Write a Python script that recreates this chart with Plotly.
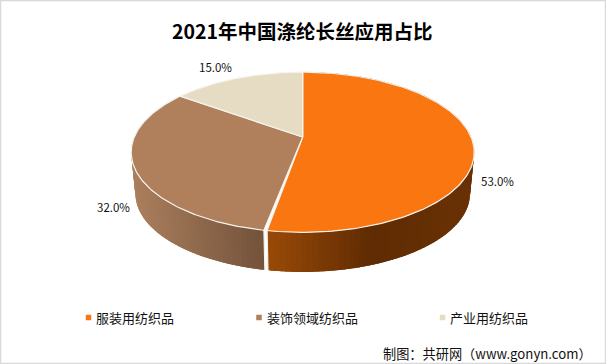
import math
import numpy as np
import plotly.graph_objects as go

# ---- data ----
title_text = "2021年中国涤纶长丝应用占比"
source_text = "制图：共研网（www.gonyn.com）"
categories = ["服装用纺织品", "装饰领域纺织品", "产业用纺织品"]
values = [53.0, 32.0, 15.0]

# ---- style ----
W, H = 606, 364
top_colors = ["#FA7610", "#B07F5B", "#E6DCC3"]
wall_stops = [
    [(266, (156, 76, 8)), (375, (96, 44, 3)), (474, (106, 50, 6))],
    [(135, (170, 126, 93)), (263, (114, 82, 58))],
    [(0, (230, 220, 195)), (606, (230, 220, 195))],
]
FONT = "Noto Sans CJK SC"
APEX = (302.7, 137.0)
SX, SY, K = 168.4, 77.2, 0.19
DEPTH, BOTTOM_SCALE = 42.0, 0.975
trim = [(0.0, 0.9), (0.0, 0.0), (0.0, 0.0)]  # degrees cut from each slice's ends
label_offsets = [(24, 37), (-21, 39), (-22, -11)]
legend_x = [88.5, 259, 442.5]
legend_gap = 5.5
LEGEND_Y = 317.5


def project(deg, bottom=False):
    """Perspective view of a point on the pie's rim; deg runs clockwise from 12 o'clock."""
    a = np.radians(deg)
    X, Y = np.sin(a), np.cos(a)
    d = 1 + K * Y
    x, y = SX * X / d, -SY * Y / d
    if bottom:
        return APEX[0] + BOTTOM_SCALE * x, APEX[1] + DEPTH + BOTTOM_SCALE * y
    return APEX[0] + x, APEX[1] + y


def wall_color(stops, x):
    xs = [s[0] for s in stops]
    rgb = [int(np.interp(x, xs, [s[1][i] for s in stops])) for i in range(3)]
    return "rgb(%d,%d,%d)" % tuple(rgb)


fig = go.Figure()
total = sum(values)
edges = np.cumsum([0] + values) / total * 360

# side walls first; the top faces cover their hidden parts
for i in range(2):  # the third slice's wall is entirely at the back
    a0, a1 = edges[i] + trim[i][0], edges[i + 1] - trim[i][1]
    steps = max(2, int((a1 - a0) / 1.5))
    grid = np.linspace(a0, a1, steps + 1)
    step = grid[1] - grid[0]
    # painted so that each band overlaps its neighbour, leaving no seams
    order = list(zip(grid[:-1], grid[1:]))
    if i == 0:
        order = order[::-1]
    for g0, g1 in order:
        lo = max(a0, g0 - step * 0.6)
        hi = min(a1, g1 + step * 0.6)
        seg = np.linspace(lo, hi, 4)
        tx, ty = project(seg)
        bx, by = project(seg, bottom=True)
        mx, _ = project((g0 + g1) / 2)
        col = wall_color(wall_stops[i], float(mx))
        fig.add_trace(go.Scatter(
            x=list(tx) + list(bx[::-1]), y=list(ty) + list(by[::-1]),
            mode="lines", fill="toself", fillcolor=col,
            line=dict(width=0), hoverinfo="skip", showlegend=False))
    # white edge of the wall at its front cut
    for ang in (a0, a1):
        if 170 < ang < 200:
            tx, ty = project(ang)
            bx, by = project(ang, bottom=True)
            fig.add_trace(go.Scatter(
                x=[tx, bx], y=[ty, by], mode="lines",
                line=dict(color="#F4F0EC", width=1.2),
                hoverinfo="skip", showlegend=False))

# top faces
for i in range(len(values)):
    a0, a1 = edges[i] + trim[i][0], edges[i + 1] - trim[i][1]
    arc = np.linspace(a0, a1, 180)
    ax, ay = project(arc)
    fig.add_trace(go.Scatter(
        x=[APEX[0]] + list(ax) + [APEX[0]], y=[APEX[1]] + list(ay) + [APEX[1]],
        mode="lines", fill="toself", fillcolor=top_colors[i],
        line=dict(color="#F6F3EF", width=1.2), hoverinfo="skip", showlegend=False))

# percentage labels
for i, v in enumerate(values):
    mid = (edges[i] + edges[i + 1]) / 2
    mx, my = project(mid)
    fig.add_annotation(x=mx + label_offsets[i][0], y=my + label_offsets[i][1],
                       text=f"{v:.1f}%", showarrow=False,
                       font=dict(family=FONT, size=11.5, color="#111111"))

# legend
for i, name in enumerate(categories):
    fig.add_trace(go.Scatter(
        x=[legend_x[i]], y=[LEGEND_Y], mode="markers", name=name,
        marker=dict(symbol="square", size=5.5, color=top_colors[i]),
        hoverinfo="skip", showlegend=False))
    fig.add_annotation(x=legend_x[i] + legend_gap, y=LEGEND_Y, xanchor="left",
                       text=name, showarrow=False,
                       font=dict(family=FONT, size=13, color="#111111"))

fig.add_annotation(x=302, y=30, text=f"<b>{title_text}</b>", showarrow=False,
                   font=dict(family=FONT, size=19.5, color="#000000"))
fig.add_annotation(x=594, y=353, xanchor="right", text=source_text, showarrow=False,
                   font=dict(family=FONT, size=13.2, color="#111111"))

fig.update_layout(
    width=W, height=H, margin=dict(l=0, r=0, t=0, b=0),
    paper_bgcolor="white", plot_bgcolor="white", showlegend=False,
    xaxis=dict(range=[0, W], visible=False, fixedrange=True),
    yaxis=dict(range=[H, 0], visible=False, fixedrange=True),
    shapes=[dict(type="rect", x0=0.5, y0=0.5, x1=W - 0.5, y1=H - 0.5,
                 line=dict(color="#D9D9D9", width=1.5))],
)
fig.write_html("out.html", config={"displayModeBar": False},
               post_script="document.body.style.margin='0';document.documentElement.style.overflow='hidden';")
